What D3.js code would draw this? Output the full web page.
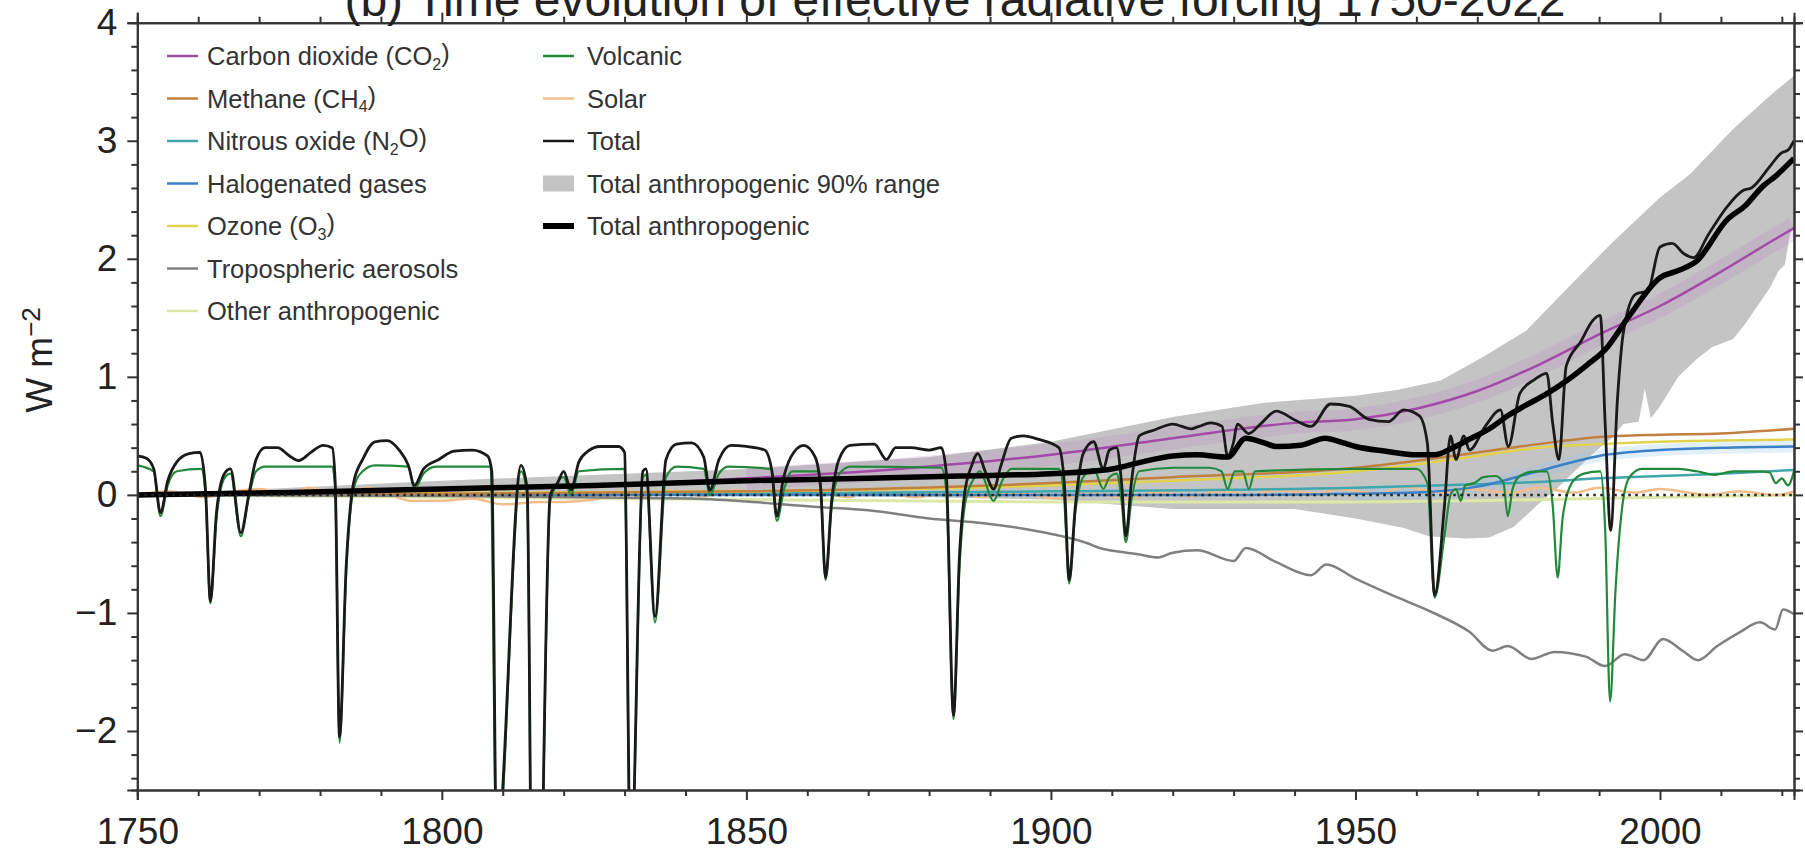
<!DOCTYPE html>
<html>
<head>
<meta charset="utf-8">
<script src="https://cdn.jsdelivr.net/npm/d3@7"></script>
<style>
body { margin: 0; background: #fff; overflow: hidden; }
svg { display: block; font-family: "Liberation Sans", Arial, sans-serif; }
</style>
</head>
<body>
<svg id="chart" width="1805" height="856"></svg>
<script>
// ---- values: [year, W m-2] ----
var co2 = [[1750,0],[1775,0.02],[1800,0.05],[1825,0.08],[1850,0.14],[1875,0.22],[1900,0.34],[1920,0.48],[1940,0.61],[1950,0.64],[1960,0.73],[1970,0.88],[1980,1.1],[1990,1.36],[2000,1.6],[2010,1.89],[2019,2.17],[2022,2.26]];
var ch4 = [[1750,0],[1800,0.01],[1850,0.03],[1900,0.1],[1920,0.15],[1950,0.23],[1960,0.29],[1970,0.36],[1980,0.43],[1990,0.49],[2000,0.51],[2010,0.52],[2022,0.56]];
var n2o = [[1750,0],[1850,0.01],[1900,0.03],[1950,0.06],[1970,0.09],[1980,0.11],[1990,0.14],[2000,0.16],[2010,0.18],[2022,0.21]];
var halogen = [[1750,0],[1930,0],[1950,0.01],[1960,0.02],[1970,0.07],[1980,0.2],[1990,0.33],[2000,0.38],[2010,0.4],[2022,0.41]];
var ozone = [[1750,0],[1850,0.03],[1900,0.08],[1920,0.12],[1950,0.2],[1960,0.26],[1970,0.33],[1980,0.4],[1990,0.43],[2000,0.45],[2010,0.46],[2022,0.47]];
var aerosol = [[1750,0],[1800,-0.01],[1841,-0.03],[1851,-0.06],[1861,-0.1],[1870,-0.13],[1880,-0.2],[1889,-0.24],[1898,-0.31],[1906,-0.41],[1908,-0.45],[1911,-0.48],[1914,-0.5],[1917.6,-0.53],[1920,-0.49],[1924,-0.47],[1930,-0.56],[1932,-0.45],[1937,-0.57],[1942.7,-0.68],[1945.2,-0.59],[1950,-0.71],[1956,-0.85],[1962.4,-0.99],[1968.7,-1.16],[1972.5,-1.32],[1975,-1.28],[1978.9,-1.39],[1982.7,-1.33],[1987.8,-1.37],[1991,-1.45],[1994.2,-1.35],[1997.3,-1.4],[2000.5,-1.22],[2003.7,-1.32],[2006.2,-1.4],[2009.4,-1.28],[2013.2,-1.16],[2016.4,-1.08],[2018.9,-1.14],[2020.2,-0.97],[2022,-1.01]];
var otherAnthro = [[1750,0],[1800,-0.02],[1850,-0.04],[1900,-0.06],[1950,-0.06],[2000,-0.02],[2022,0]];
var volcanic = [[1750,0.25],[1752.7,0.2],[1753.8,-0.18],[1755,0.08],[1756.5,0.2],[1760.5,0.22],[1761.2,0],[1762,-0.92],[1763,-0.2],[1764.3,0.14],[1765.3,0.18],[1767,-0.35],[1768.3,-0.02],[1769.5,0.2],[1771,0.24],[1782,0.24],[1782.5,0.05],[1783.2,-2.1],[1784.3,-0.65],[1785.5,0.05],[1787,0.2],[1789,0.25],[1794.5,0.24],[1795.5,0.05],[1797,0.18],[1799,0.24],[1808,0.24],[1809,-3.1],[1813,0.2],[1814,0],[1815.2,-6.1],[1817.8,-0.05],[1820,0.15],[1821.2,0],[1822.5,0.2],[1830,0.22],[1831,-3.3],[1833,0.15],[1833.5,0.17],[1835,-1.08],[1836.8,0.15],[1838.5,0.24],[1843,0.22],[1844,0],[1845.5,0.18],[1847,0.24],[1854,0.22],[1855,-0.22],[1856.2,0.05],[1857.5,0.2],[1862,0.2],[1863,-0.72],[1864,-0.1],[1865.3,0.18],[1867,0.24],[1882,0.23],[1882.8,0.05],[1884,-1.9],[1885,-0.6],[1886,-0.05],[1887.5,0.15],[1888.3,0.2],[1890.6,-0.05],[1892,0.12],[1893.5,0.22],[1901.3,0.22],[1902.2,-0.05],[1903,-0.75],[1904,-0.15],[1905.3,0.15],[1907,0.22],[1908.6,0.05],[1909.6,0.15],[1910.8,0.18],[1911.6,-0.05],[1912.3,-0.4],[1913.2,-0.05],[1914.5,0.2],[1920,0.23],[1926,0.23],[1928,0.2],[1929,0.05],[1930.2,0.2],[1931.5,0.2],[1932.5,0.05],[1933.5,0.2],[1950,0.22],[1960,0.22],[1961.8,0.1],[1963,-0.87],[1964.6,-0.35],[1965.6,0],[1966.5,0.05],[1967.3,-0.05],[1968,0.08],[1969.5,0.1],[1971,0.15],[1973,0.16],[1974.3,0.1],[1975,-0.18],[1975.8,0.05],[1977,0.16],[1979.5,0.2],[1981.4,0.2],[1982.4,-0.1],[1983.2,-0.7],[1984,-0.2],[1985.5,0.1],[1987.5,0.18],[1990.2,0.2],[1991,-0.3],[1991.8,-1.75],[1992.7,-0.8],[1993.8,-0.1],[1995,0.15],[1997,0.22],[2003,0.22],[2006,0.2],[2009,0.17],[2012,0.2],[2016,0.2],[2018,0.19],[2019,0.1],[2020,0.14],[2021,0.08],[2022,0.2]];
var solar = [[1750,0],[1755,0.03],[1761,-0.02],[1766,0.03],[1770,0.05],[1775,0],[1778,0.06],[1784,0],[1788,0.06],[1795,-0.05],[1800,-0.05],[1805,-0.03],[1810,-0.08],[1816,-0.06],[1820,-0.06],[1825,-0.04],[1830,0.02],[1833,-0.02],[1837,0.04],[1843,-0.01],[1848,0.04],[1856,-0.01],[1860,0.03],[1867,-0.02],[1870,0.04],[1878,-0.02],[1883,0.02],[1889,-0.02],[1894,0.02],[1901,-0.03],[1907,0.01],[1913,-0.03],[1917,0.02],[1923,-0.01],[1928,0.03],[1933,0],[1937,0.04],[1944,0.01],[1947,0.05],[1954,0.01],[1958,0.07],[1964,0.02],[1968,0.05],[1976,0.02],[1980,0.06],[1986,0.02],[1990,0.06],[1996,0.02],[2000,0.05],[2008,0],[2013,0.03],[2019,0],[2022,0.03]];
var total = [[1750,0.33],[1751.5,0.31],[1752.7,0.22],[1753.8,-0.15],[1755,0.12],[1756.5,0.28],[1758.5,0.35],[1760.3,0.36],[1761.2,0.05],[1762,-0.9],[1763,-0.15],[1764.3,0.18],[1765.3,0.22],[1767,-0.32],[1768.3,0],[1769.5,0.3],[1771,0.4],[1773,0.4],[1775,0.33],[1776.5,0.29],[1778.5,0.36],[1780.5,0.42],[1782,0.4],[1782.5,0.1],[1783.2,-2.05],[1784.3,-0.6],[1785.5,0.1],[1787,0.3],[1789,0.45],[1791,0.46],[1793,0.38],[1794.5,0.25],[1795.5,0.08],[1797,0.22],[1799.5,0.3],[1802,0.37],[1805,0.38],[1807.5,0.33],[1808.2,0.2],[1809,-3],[1813,0.25],[1814,0.05],[1815.2,-6],[1817.8,0],[1819,0.1],[1820,0.2],[1821.2,0.04],[1822.5,0.28],[1824,0.37],[1826,0.41],[1829,0.41],[1830,0.36],[1831,-3.2],[1833,0.2],[1833.5,0.22],[1835,-1.03],[1836.8,0.3],[1838.5,0.43],[1841,0.44],[1843,0.32],[1844,0.04],[1845.5,0.3],[1847.5,0.42],[1850,0.41],[1853,0.38],[1854.2,0.2],[1855,-0.18],[1856,0.12],[1857.3,0.32],[1859.4,0.42],[1861.3,0.32],[1862.2,0.05],[1863,-0.7],[1864,-0.05],[1865.2,0.3],[1867,0.42],[1871,0.43],[1873,0.3],[1874.5,0.4],[1877,0.4],[1880,0.38],[1882,0.4],[1882.8,0.2],[1884,-1.87],[1885,-0.5],[1885.8,0],[1887,0.25],[1888,0.35],[1889.2,0.2],[1890.6,0.05],[1891.8,0.25],[1893.5,0.48],[1895.5,0.5],[1898,0.47],[1901.3,0.4],[1902.2,0.1],[1903,-0.72],[1904,-0.1],[1905.3,0.35],[1907,0.45],[1908.6,0.22],[1909.6,0.38],[1910.8,0.4],[1911.6,0.1],[1912.3,-0.35],[1913.2,0.1],[1914.5,0.5],[1917,0.55],[1920,0.6],[1923,0.56],[1924.3,0.58],[1926.2,0.61],[1928.1,0.58],[1929,0.33],[1930,0.45],[1930.6,0.6],[1932.5,0.52],[1934.4,0.6],[1937,0.71],[1940.2,0.63],[1942.7,0.58],[1945.9,0.77],[1949,0.75],[1952.2,0.64],[1955.4,0.62],[1957.9,0.72],[1960.5,0.67],[1961.8,0.44],[1963,-0.85],[1964.6,-0.1],[1965.6,0.5],[1966.5,0.3],[1967.8,0.5],[1968.7,0.38],[1971.3,0.58],[1973.8,0.72],[1975.1,0.41],[1977,0.86],[1979.5,0.98],[1981.4,1.03],[1982.4,0.6],[1983.4,0.3],[1984.6,1.09],[1987,1.3],[1989,1.48],[1990.2,1.52],[1991,0.6],[1991.9,-0.3],[1993,0.8],[1994,1.38],[1996,1.7],[1998,1.73],[2000,2.1],[2002,2.13],[2004,2.04],[2005.5,2.01],[2008,2.21],[2011,2.44],[2013.7,2.58],[2015,2.6],[2018,2.78],[2020,2.9],[2021,2.92],[2022,3.0]];
var totalAnthro = [[1750,0],[1775,0.02],[1800,0.05],[1825,0.08],[1850,0.12],[1870,0.14],[1885,0.16],[1900,0.18],[1910,0.22],[1915,0.28],[1920,0.33],[1924,0.34],[1929,0.32],[1932,0.48],[1935,0.44],[1937,0.41],[1941,0.42],[1945,0.48],[1948,0.44],[1950,0.41],[1955,0.37],[1960,0.34],[1963,0.34],[1966,0.4],[1969,0.48],[1972,0.56],[1975,0.67],[1978,0.76],[1981.5,0.86],[1985,0.98],[1988,1.1],[1991,1.23],[1995,1.52],[2000,1.84],[2003,1.9],[2006,1.98],[2011,2.33],[2014,2.45],[2017,2.62],[2019,2.7],[2021,2.8],[2022,2.85]];
var rangeUpper = [[1750,0],[1800,0.12],[1850,0.22],[1880,0.32],[1900,0.45],[1920,0.66],[1935,0.78],[1950,0.84],[1957,0.89],[1964,0.97],[1971,1.17],[1978,1.39],[1985,1.76],[1992,2.13],[2000,2.52],[2005,2.72],[2012,3.1],[2018,3.38],[2022,3.55]];
var rangeLower = [[1750,0],[1800,0],[1850,0],[1880,-0.02],[1900,-0.04],[1920,-0.12],[1940,-0.12],[1950,-0.2],[1958,-0.28],[1962,-0.35],[1968,-0.37],[1972,-0.36],[1976,-0.27],[1980,-0.08],[1983,0.05],[1986,0.2],[1989,0.35],[1992,0.48],[1994,0.6],[1996.5,0.62],[1997.5,0.9],[1998.5,0.65],[2000,0.75],[2003,1.0],[2006,1.15],[2008.5,1.25],[2012,1.32],[2014,1.45],[2016,1.6],[2018,1.75],[2019.5,1.9],[2020.5,1.95],[2021.3,2.2],[2022,2.28]];

var xMajorTicks = [1750, 1800, 1850, 1900, 1950, 2000];
var yMajorTicks = [-2, -1, 0, 1, 2, 3, 4];
var titleText = "(b) Time evolution of effective radiative forcing 1750-2022";

var legendLeft = [
    { name: "Carbon dioxide (CO", sub: "2", tail: ")", color: "#a34aa8", width: 2.5 },
    { name: "Methane (CH", sub: "4", tail: ")", color: "#c08040", width: 2.5 },
    { name: "Nitrous oxide (N", sub: "2", tail: "O)", color: "#3fa7ad", width: 2.5 },
    { name: "Halogenated gases", color: "#3c80c6", width: 2.5 },
    { name: "Ozone (O", sub: "3", tail: ")", color: "#e3d24e", width: 2.5 },
    { name: "Tropospheric aerosols", color: "#808080", width: 2.5 },
    { name: "Other anthropogenic", color: "#dbe8a8", width: 2.5 }
];
var legendRight = [
    { name: "Volcanic", color: "#23893a", width: 2.5 },
    { name: "Solar", color: "#f2bd8c", width: 2.5 },
    { name: "Total", color: "#1a1a1a", width: 2.5 },
    { name: "Total anthropogenic 90% range", color: "#c4c4c4", box: true },
    { name: "Total anthropogenic", color: "#000", width: 6 }
];

var plot = { left: 137.3, right: 1794, top: 22.7, bottom: 790 };

var svg = d3.select("#chart");

var x = d3.scaleLinear().domain([1750, 2022]).range([plot.left, plot.right]);
var y = d3.scaleLinear().domain([-2.5, 4]).range([plot.bottom, plot.top]);

svg.append("defs").append("clipPath").attr("id", "plotClip")
    .append("rect")
    .attr("x", plot.left).attr("y", plot.top)
    .attr("width", plot.right - plot.left).attr("height", plot.bottom - plot.top);

var g = svg.append("g").attr("clip-path", "url(#plotClip)");

var line = d3.line()
    .x(function (d) { return x(d[0]); })
    .y(function (d) { return y(d[1]); })
    .curve(d3.curveMonotoneX);

// grey 90% band: upper edge forward, lower edge back
var bandPts = rangeUpper.concat(rangeLower.slice().reverse());
g.append("path")
    .attr("d", d3.line().x(function (d) { return x(d[0]); }).y(function (d) { return y(d[1]); }).curve(d3.curveLinearClosed)(bandPts))
    .attr("fill", "#c4c4c4")
    .attr("stroke", "none");

// soft tint around CO2 and halogen lines (as in the source image)
g.append("path").attr("d", line(co2.filter(function (d) { return d[0] >= 1850; }))).attr("fill", "none")
    .attr("stroke", "#b77cc4").attr("stroke-width", 22).attr("opacity", 0.2);
g.append("path").attr("d", line(halogen.filter(function (d) { return d[0] >= 1950; }))).attr("fill", "none")
    .attr("stroke", "#8cc4ea").attr("stroke-width", 12).attr("opacity", 0.25);

function drawSeries(data, color, width) {
    g.append("path")
        .attr("d", line(data))
        .attr("fill", "none")
        .attr("stroke", color)
        .attr("stroke-width", width)
        .attr("stroke-linejoin", "round");
}

drawSeries(otherAnthro, legendLeft[6].color, 3);
drawSeries(solar, legendRight[1].color, 2.5);
drawSeries(n2o, legendLeft[2].color, 2.5);
drawSeries(halogen, legendLeft[3].color, 2.5);
drawSeries(ozone, legendLeft[4].color, 2.5);
drawSeries(ch4, legendLeft[1].color, 2.5);
drawSeries(co2, legendLeft[0].color, 2.5);
drawSeries(aerosol, legendLeft[5].color, 2.5);
drawSeries(volcanic, legendRight[0].color, 2.2);
drawSeries(total, legendRight[2].color, 2.8);
drawSeries(totalAnthro, "#000", 5.5);

// dotted zero line
g.append("line")
    .attr("x1", plot.left).attr("x2", plot.right)
    .attr("y1", y(0)).attr("y2", y(0))
    .attr("stroke", "#222").attr("stroke-width", 2.5)
    .attr("stroke-dasharray", "2.5,4.5");

// ---- axes ----
var axisColor = "#333";
var minorX = d3.range(1760, 2021, 10).filter(function (v) { return v % 50 !== 0; });
var minorY = d3.range(-24, 40, 2).map(function (v) { return v / 10; }).filter(function (v) { return Math.abs(v - Math.round(v)) > 1e-6; });

function styleAxis(sel) {
    sel.selectAll("path").attr("stroke", axisColor).attr("stroke-width", 2);
    sel.selectAll("line").attr("stroke", axisColor).attr("stroke-width", 2);
    sel.selectAll("text").attr("fill", "#222").style("font-size", "37px");
}

// bottom
svg.append("g").attr("transform", "translate(0," + plot.bottom + ")")
    .call(d3.axisBottom(x).tickValues(minorX).tickSize(6).tickFormat(""))
    .call(styleAxis);
svg.append("g").attr("transform", "translate(0," + plot.bottom + ")")
    .call(d3.axisBottom(x).tickValues(xMajorTicks).tickSize(10).tickPadding(18).tickFormat(d3.format("d")))
    .call(styleAxis);
// top
svg.append("g").attr("transform", "translate(0," + plot.top + ")")
    .call(d3.axisTop(x).tickValues(minorX).tickSize(6).tickFormat(""))
    .call(styleAxis);
svg.append("g").attr("transform", "translate(0," + plot.top + ")")
    .call(d3.axisTop(x).tickValues(xMajorTicks).tickSize(10).tickFormat(""))
    .call(styleAxis);
// left
svg.append("g").attr("transform", "translate(" + plot.left + ",0)")
    .call(d3.axisLeft(y).tickValues(minorY).tickSize(6).tickFormat(""))
    .call(styleAxis);
svg.append("g").attr("transform", "translate(" + plot.left + ",0)")
    .call(d3.axisLeft(y).tickValues(yMajorTicks).tickSize(10).tickPadding(10).tickFormat(d3.format("d")))
    .call(styleAxis);
// right
svg.append("g").attr("transform", "translate(" + plot.right + ",0)")
    .call(d3.axisRight(y).tickValues(minorY).tickSize(6).tickFormat(""))
    .call(styleAxis);
svg.append("g").attr("transform", "translate(" + plot.right + ",0)")
    .call(d3.axisRight(y).tickValues(yMajorTicks).tickSize(9).tickFormat(""))
    .call(styleAxis);

// y axis title
var yTitle = svg.append("text")
    .attr("transform", "translate(52,360) rotate(-90)")
    .attr("text-anchor", "middle")
    .attr("fill", "#222")
    .style("font-size", "37px");
yTitle.append("tspan").text("W m");
yTitle.append("tspan").attr("dy", "-0.45em").style("font-size", "26px").text("\u22122");

// title (cut by the top edge, as in the source)
svg.append("text")
    .attr("x", 955).attr("y", 16)
    .attr("text-anchor", "middle")
    .attr("fill", "#222")
    .style("font-size", "48px")
    .text(titleText);

// ---- legend ----
function drawLegend(items, lineX, textX, top, step) {
    items.forEach(function (d, i) {
        var cy = top + i * step;
        if (d.box) {
            svg.append("rect").attr("x", lineX).attr("y", cy - 8)
                .attr("width", 31).attr("height", 16).attr("fill", d.color);
        } else {
            svg.append("line").attr("x1", lineX).attr("x2", lineX + 31)
                .attr("y1", cy).attr("y2", cy)
                .attr("stroke", d.color).attr("stroke-width", d.width);
        }
        var t = svg.append("text").attr("x", textX).attr("y", cy + 9)
            .attr("fill", "#333").style("font-size", "25.5px");
        t.append("tspan").text(d.name);
        if (d.sub) {
            t.append("tspan").attr("dy", "0.3em").style("font-size", "16px").text(d.sub);
            t.append("tspan").attr("dy", "-0.3em").text(d.tail);
        }
    });
}
drawLegend(legendLeft, 167, 207, 56, 42.5);
drawLegend(legendRight, 543, 587, 56, 42.5);
</script>
</body>
</html>
